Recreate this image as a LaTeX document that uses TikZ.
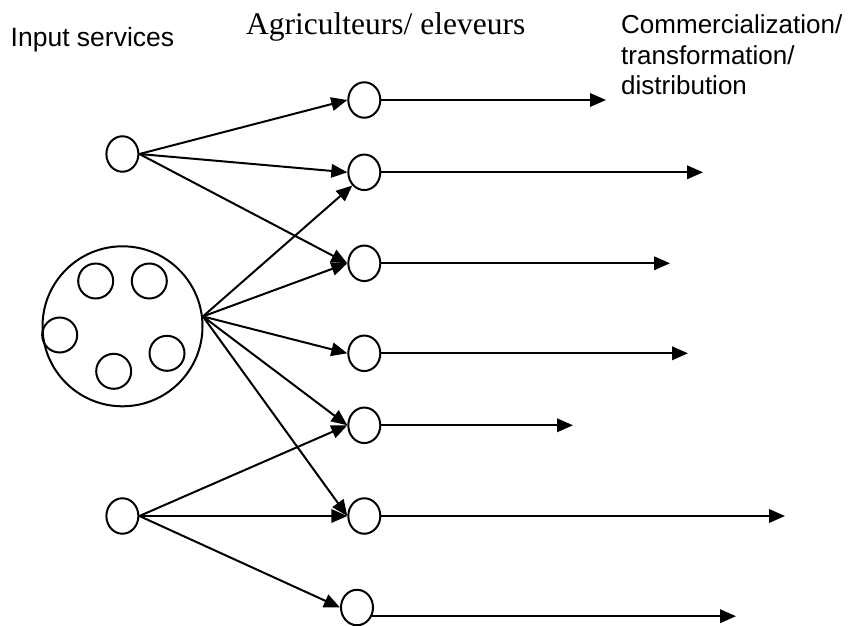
\documentclass[tikz,border=0pt]{standalone}
\usepackage{fontspec}
\newfontfamily\arialfont{Liberation Sans}
\newfontfamily\timesfont{Liberation Serif}
\usetikzlibrary{arrows.meta,shapes.geometric}
\begin{document}
\begin{tikzpicture}[x=1pt,y=-1pt,
  actor/.style={draw, ellipse, minimum width=32pt, minimum height=35.5pt, inner sep=0pt, line width=2pt},
  member/.style={draw, circle, minimum size=35pt, inner sep=0pt, line width=2pt},
  group/.style={draw, circle, minimum size=160pt, inner sep=0pt, line width=2pt},
  flow/.style={line width=2pt, -{Triangle[length=16pt,width=13.5pt]}},
  heading/.style={inner sep=0pt, anchor=base west, align=left}]
\useasboundingbox (0,0) rectangle (851,626);

% column headings (a multi-line node sits on its last baseline)
\node[heading, font=\arialfont\fontsize{26.5}{31}\selectfont] (hin) at (10.5,47) {Input services};
\node[heading, font=\timesfont\fontsize{31.5}{36}\selectfont] (hfarm) at (246,35) {Agriculteurs/ eleveurs};
\node[heading, font=\arialfont\fontsize{26}{31}\selectfont] (hout) at (621,95)
  {Commercialization/\\transformation/\\distribution};

% input providers
\node[actor] (a) at (122.4,154) {};
\node[actor] (b) at (122.4,516) {};
\node[group] (g) at (122.5,326.3) {};
\node[member] (g1) at (95.7,281) {};
\node[member] (g2) at (149.3,281) {};
\node[member] (g3) at (59.7,335) {};
\node[member] (g4) at (113.7,371.3) {};
\node[member] (g5) at (167,353.3) {};
\coordinate (gs) at (g.7);

% farmers
\node[actor] (e1) at (364.3,100) {};
\node[actor] (e2) at (364.3,172.3) {};
\node[actor] (e3) at (364.3,263.3) {};
\node[actor] (e4) at (364.3,353.3) {};
\node[actor] (e5) at (364.3,425.3) {};
\node[actor] (e6) at (364.3,516) {};
\node[actor] (e7) at (357,607.5) {};

% outlets
\coordinate (o1) at (606,100);
\coordinate (o2) at (703,172.3);
\coordinate (o3) at (670,263.3);
\coordinate (o4) at (688,353.3);
\coordinate (o5) at (573,425.3);
\coordinate (o6) at (785,516);
\coordinate (o7) at (736,616);

% supply links
\draw[flow] (a.east) -- (e1.west);
\draw[flow] (a.east) -- (e2.west);
\draw[flow] (a.east) -- (e3.west);
\draw[flow] (gs) -- (e2.south west);
\draw[flow] (gs) -- (e3.west);
\draw[flow] (gs) -- (e4.west);
\draw[flow] (gs) -- (e5.west);
\draw[flow] (gs) -- (e6.west);
\draw[flow] (b.east) -- (e5.west);
\draw[flow] (b.east) -- (e6.west);
\draw[flow] (b.east) -- (e7.west);

% links downstream
\draw[flow] (e1.east) -- (o1);
\draw[flow] (e2.east) -- (o2);
\draw[flow] (e3.east) -- (o3);
\draw[flow] (e4.east) -- (o4);
\draw[flow] (e5.east) -- (o5);
\draw[flow] (e6.east) -- (o6);
\draw[flow] (e7.-30) -- (e7.-30 -| o7);
\end{tikzpicture}
\end{document}
